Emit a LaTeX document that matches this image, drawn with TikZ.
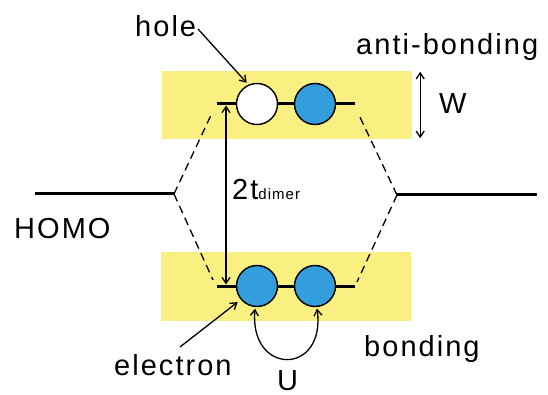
\documentclass[tikz,border=0pt]{standalone}
\usepackage{fontspec}
\usetikzlibrary{arrows.meta,calc}
\newfontfamily\lab{Liberation Sans}[LetterSpace=7]
\definecolor{bandyellow}{RGB}{250,240,130}
\definecolor{elblue}{RGB}{52,158,220}
\tikzset{
  lbl/.style={inner sep=0pt,anchor=base west,font=\lab\fontsize{29}{31}\selectfont},
  ybox/.style={fill=bandyellow,draw=none,minimum width=250pt,inner sep=0pt},
  site/.style={circle,draw=black,line width=1.4pt,minimum size=41pt,inner sep=0pt},
  levelline/.style={line width=3pt},
  homoline/.style={line width=3pt},
  conn/.style={dashed,line width=1.3pt,dash pattern=on 8pt off 5pt},
  arr/.style={line width=1.3pt,-{Straight Barb[length=6pt,width=8pt]}},
  darr/.style={line width=1.3pt,{Straight Barb[length=6pt,width=8pt]}-{Straight Barb[length=6pt,width=8pt]}}
}
\begin{document}
\begin{tikzpicture}[x=1pt,y=-1pt]
\useasboundingbox (0,0) rectangle (548,395);
% bands
\node[ybox,minimum height=68pt] (topbox) at (287,105) {};
\node[ybox,minimum height=69pt] (botbox) at (286,286.5) {};
% level coordinates
\coordinate (tl) at (217,104);
\coordinate (tr) at (355,104);
\coordinate (bl) at (217,286);
\coordinate (br) at (355,286);
\coordinate (hl0) at (35,194);
\coordinate (hl1) at (174,194);
\coordinate (hr0) at (397,195);
\coordinate (hr1) at (537,195);
% dashed connectors
\draw[conn] (hl1) -- (212,113) coordinate (dtl);
\draw[conn] (hl1) -- (213,280) coordinate (dbl);
\draw[conn] (hr0) -- (358,113) coordinate (dtr);
\draw[conn] (hr0) -- (357,282) coordinate (dbr);
% HOMO lines
\draw[homoline] (hl0) -- (hl1);
\draw[homoline] (hr0) -- (hr1);
% level lines
\draw[levelline] (tl) -- (tr);
\draw[levelline] (bl) -- (br);
% sites
\node[site,fill=white] (tc1) at (257,104) {};
\node[site,fill=elblue] (tc2) at (315,104) {};
\node[site,fill=elblue] (bc1) at (257,286) {};
\node[site,fill=elblue] (bc2) at (315,286) {};
% 2t arrow
\coordinate (ta) at (226,105.5);
\coordinate (ba) at (226,284.5);
\draw[darr] (ba) -- (ta);
% W arrow
\draw[darr] ($(topbox.north east)+(8,1)$) -- ($(topbox.south east)+(8,-1)$);
% labels
\node[lbl] (holetxt) at (135,37) {hole};
\node[lbl] (antitxt) at (356,55) {anti-bonding};
\node[lbl] (wtxt) at (439,114) {W};
\node[lbl] (ttxt) at (232,200) {2t{\fontsize{15}{15}\selectfont dimer}};
\node[lbl] (homotxt) at (14,238) {HOMO};
\node[lbl] (bondtxt) at (364,356) {bonding};
\node[lbl] (eltxt) at (114,375) {electron};
\node[lbl] (utxt) at (277,390) {U};
% pointer arrows
\coordinate (hstart) at (198,29);
\draw[arr,shorten >=2.5pt] (hstart) -- (tc1.114);
\coordinate (estart) at (180,347);
\draw[arr,shorten >=4pt] (estart) -- (bc1.220);
\draw[darr,shorten <=1.5pt,shorten >=1.5pt] (bc1.265) .. controls (249,376) and (326,376) .. (bc2.275);
\end{tikzpicture}
\end{document}
